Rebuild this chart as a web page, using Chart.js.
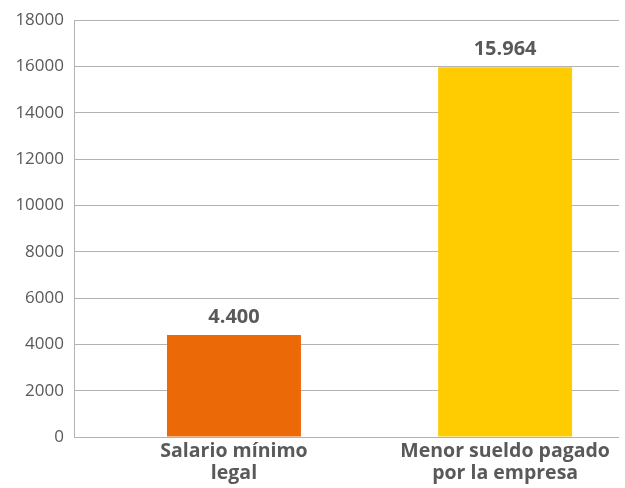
<!DOCTYPE html>
<html>
<head>
<meta charset="utf-8">
<script src="https://cdn.jsdelivr.net/npm/chart.js@4"></script>
<style>
  html, body { margin: 0; padding: 0; background: #fff; }
  #wrap { width: 625px; height: 488px; }
</style>
</head>
<body>
<div id="wrap"><canvas id="myChart" width="625" height="488"></canvas></div>
<script>
const categories = [["Salario mínimo", "legal"], ["Menor sueldo pagado", "por la empresa"]]
const positions = [1, 2]
const values = [4400, 15964]
const valueLabels = ["4.400", "15.964"]
const barColors = ["#EC6907", "#FECC00"]

const grey = "#595959"

// labels over the bars
const barLabels = {
	id: "barLabels",
	afterDatasetsDraw(chart) {
		const ctx = chart.ctx
		const meta = chart.getDatasetMeta(0)
		ctx.save()
		ctx.font = "bold 20px 'Open Sans'"
		ctx.fillStyle = grey
		ctx.textAlign = "center"
		ctx.textBaseline = "middle"
		meta.data.forEach((bar, i) => {
			ctx.fillText(valueLabels[i], bar.x, bar.y - 18)
		})
		ctx.restore()
	}
}

new Chart("myChart", {
	type: "bar",
	data: {
		datasets: [{
			data: positions.map((x, i) => ({x: x, y: values[i]})),
			backgroundColor: barColors,
			categoryPercentage: 1,
			barPercentage: 0.494
		}]
	},
	options: {
		responsive: false,
		animation: false,
		layout: {padding: {top: 9, right: 6, left: 0, bottom: 0}},
		plugins: {legend: {display: false}, tooltip: {enabled: false}},
		scales: {
			x: {
				type: "linear",
				offset: false,
				min: 0.41,
				max: 2.42,
				afterBuildTicks: axis => { axis.ticks = positions.map(v => ({value: v})) },
				afterFit: axis => { axis.height = 51 },
				ticks: {
					callback: (v) => categories[positions.indexOf(v)],
					color: grey,
					font: {family: "'Open Sans'", size: 19.5, weight: "bold", lineHeight: 1.13},
					padding: 3,
					maxRotation: 0,
					autoSkip: false
				},
				grid: {display: false, drawTicks: false},
				border: {display: false}
			},
			y: {
				min: 0,
				max: 18000,
				afterFit: axis => { axis.width = 74 },
				ticks: {
					stepSize: 2000,
					callback: v => String(v),
					color: grey,
					font: {family: "'Open Sans'", size: 17},
					padding: 10
				},
				grid: {color: "#b3b3b3", lineWidth: 1, drawTicks: false},
				border: {display: true, color: "#b3b3b3"}
			}
		}
	},
	plugins: [barLabels]
})
</script>
</body>
</html>
